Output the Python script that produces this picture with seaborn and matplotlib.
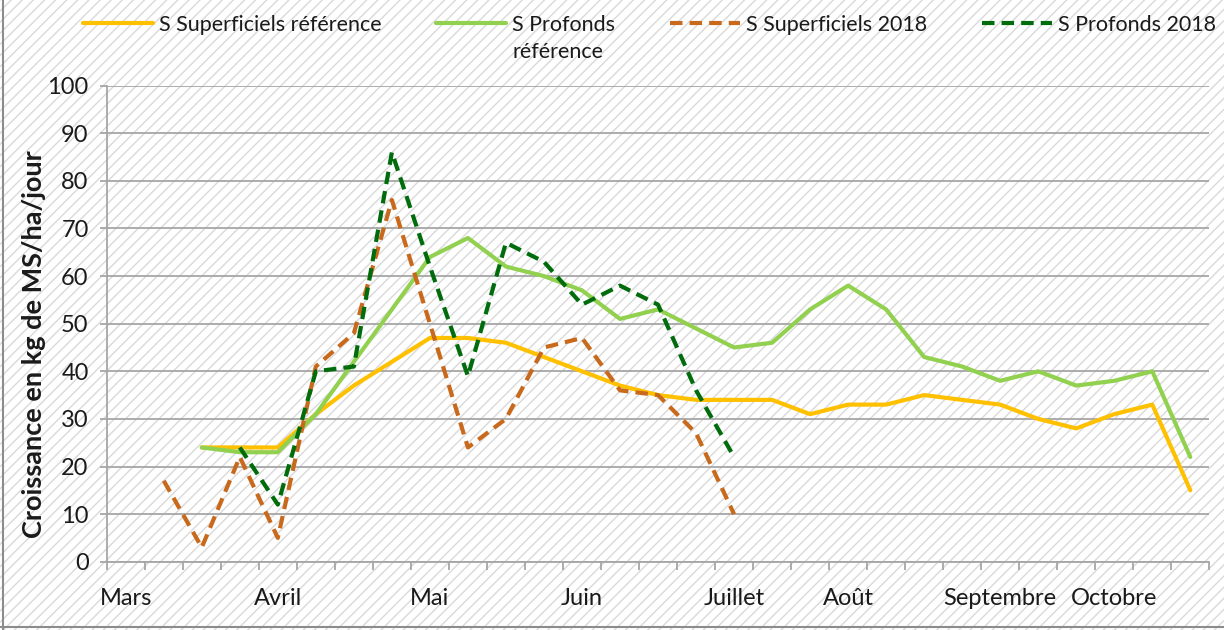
import numpy as np
import pandas as pd
import matplotlib.pyplot as plt
import seaborn as sns

from matplotlib.patches import Rectangle
from matplotlib.lines import Line2D


# =========================================================
# DATA
# =========================================================

MONTHS = [
    "Mars", "", "", "",
    "Avril", "", "", "",
    "Mai", "", "", "",
    "Juin", "", "", "",
    "Juillet", "", "",
    "Août", "", "", "",
    "Septembre", "", "",
    "Octobre", "", "",
]

nan = np.nan

SUPERF_REF = [
    nan, nan, 24, 24, 24, 31, 37, 42, 47, 47, 46, 43, 40, 37, 35,
    34, 34, 34, 31, 33, 33, 35, 34, 33, 30, 28, 31, 33, 15,
]

PROF_REF = [
    nan, nan, 24, 23, 23, 31, 42, 53, 64, 68, 62, 60, 57, 51, 53,
    49, 45, 46, 53, 58, 53, 43, 41, 38, 40, 37, 38, 40, 22,
]

SUPERF_2018 = [
    nan, 17, 3, 22, 5, 41, 48, 76, 50, 24, 30, 45, 47, 36, 35,
    27, 10, nan, nan, nan, nan, nan, nan, nan, nan, nan, nan, nan, nan,
]

PROF_2018 = [
    nan, nan, nan, 24, 12, 40, 41, 86, 62, 39, 67, 63, 54, 58, 54,
    36, 22, nan, nan, nan, nan, nan, nan, nan, nan, nan, nan, nan, nan,
]

DASH = (0, (3, 1.7))

SERIES = [
    ("S Superficiels référence", SUPERF_REF, "#FFC000", "-"),
    ("S Profonds", PROF_REF, "#92D050", "-"),
    ("S Superficiels 2018", SUPERF_2018, "#C8691C", DASH),
    ("S Profonds 2018", PROF_2018, "#006C0C", DASH),
]

# second line of the wrapped legend label
PROF_REF_LABEL_LINE2 = "référence"

Y_TICKS = list(range(0, 101, 10))

PERIODS = np.arange(len(MONTHS))


# =========================================================
# STYLE
# =========================================================

sns.set_theme(style="white")

plt.rcParams["font.family"] = ["Lato", "DejaVu Sans"]
plt.rcParams["hatch.linewidth"] = 1.0

TEXT_COLOR = "#1a1a1a"
GRID_COLOR = "#a6a6a6"
FRAME_COLOR = "#8c8c8c"


# =========================================================
# FIGURE
# =========================================================

fig = plt.figure(figsize=(12.24, 6.30), dpi=100, facecolor="white")

# hatched background of the whole chart area
fig.patches.append(
    Rectangle(
        (0, 0), 1, 1,
        transform=fig.transFigure,
        facecolor="white",
        edgecolor="#d9d9d9",
        hatch="///",
        linewidth=0,
        zorder=-10,
    )
)

# outer frame (left and bottom visible)
fig.lines.append(
    Line2D([0.0025, 0.0025], [0.0, 1.0], transform=fig.transFigure,
           color=FRAME_COLOR, linewidth=1.5)
)
fig.lines.append(
    Line2D([0.0, 1.0], [0.004, 0.004], transform=fig.transFigure,
           color=FRAME_COLOR, linewidth=1.5)
)

ax = fig.add_axes([0.0872, 0.1084, 0.9008, 0.7556])
ax.set_facecolor("none")

for name, values, color, ls in SERIES:

    sns.lineplot(
        x=PERIODS,
        y=values,
        color=color,
        linewidth=3,
        linestyle=ls,
        label=name,
        ax=ax,
    )


# =========================================================
# AXES
# =========================================================

ax.set_xlim(-0.5, len(MONTHS) - 0.5)
ax.set_ylim(0, 100)

ax.set_xticks(PERIODS)
ax.set_xticklabels(MONTHS)
ax.set_xticks(np.arange(-0.5, len(MONTHS), 1), minor=True)

ax.set_yticks(Y_TICKS)
ax.set_yticklabels([str(v) for v in Y_TICKS])

ax.tick_params(
    axis="x", which="major", length=0, pad=19,
    labelsize=17, labelcolor=TEXT_COLOR,
)
ax.tick_params(
    axis="x", which="minor", length=6, width=1.3,
    color=GRID_COLOR, direction="out", bottom=True,
)
ax.tick_params(
    axis="y", length=5, width=1.3, color=GRID_COLOR,
    direction="out", left=True, pad=8,
    labelsize=17, labelcolor=TEXT_COLOR,
)

ax.yaxis.grid(True, color=GRID_COLOR, linewidth=1.3)
ax.xaxis.grid(False)
ax.set_axisbelow(True)

for side in ["top", "right"]:
    ax.spines[side].set_visible(False)

for side in ["left", "bottom"]:
    ax.spines[side].set_color(GRID_COLOR)
    ax.spines[side].set_linewidth(1.3)

ax.set_xlabel("")
ax.set_ylabel(
    "Croissance en kg de MS/ha/jour",
    fontsize=19.5,
    fontweight="bold",
    color=TEXT_COLOR,
)
ax.yaxis.set_label_coords(-0.055, 0.458)


# =========================================================
# LEGEND
# =========================================================

handles, labels = ax.get_legend_handles_labels()
ax.get_legend().remove()

leg = fig.legend(
    handles,
    labels,
    loc="upper left",
    bbox_to_anchor=(0.0588, 0.994),
    ncol=4,
    frameon=False,
    fontsize=15.5,
    handlelength=3.25,
    handletextpad=0.28,
    columnspacing=2.55,
    borderpad=0,
    labelcolor=TEXT_COLOR,
)

fig.canvas.draw()

# wrapped second line under "S Profonds"
prof_text = leg.get_texts()[1]
bb = prof_text.get_window_extent().transformed(fig.transFigure.inverted())

fig.text(
    bb.x0,
    bb.y0 - 0.012,
    PROF_REF_LABEL_LINE2,
    fontsize=15.5,
    color=TEXT_COLOR,
    ha="left",
    va="top",
)

plt.savefig("out.png", dpi=100)
